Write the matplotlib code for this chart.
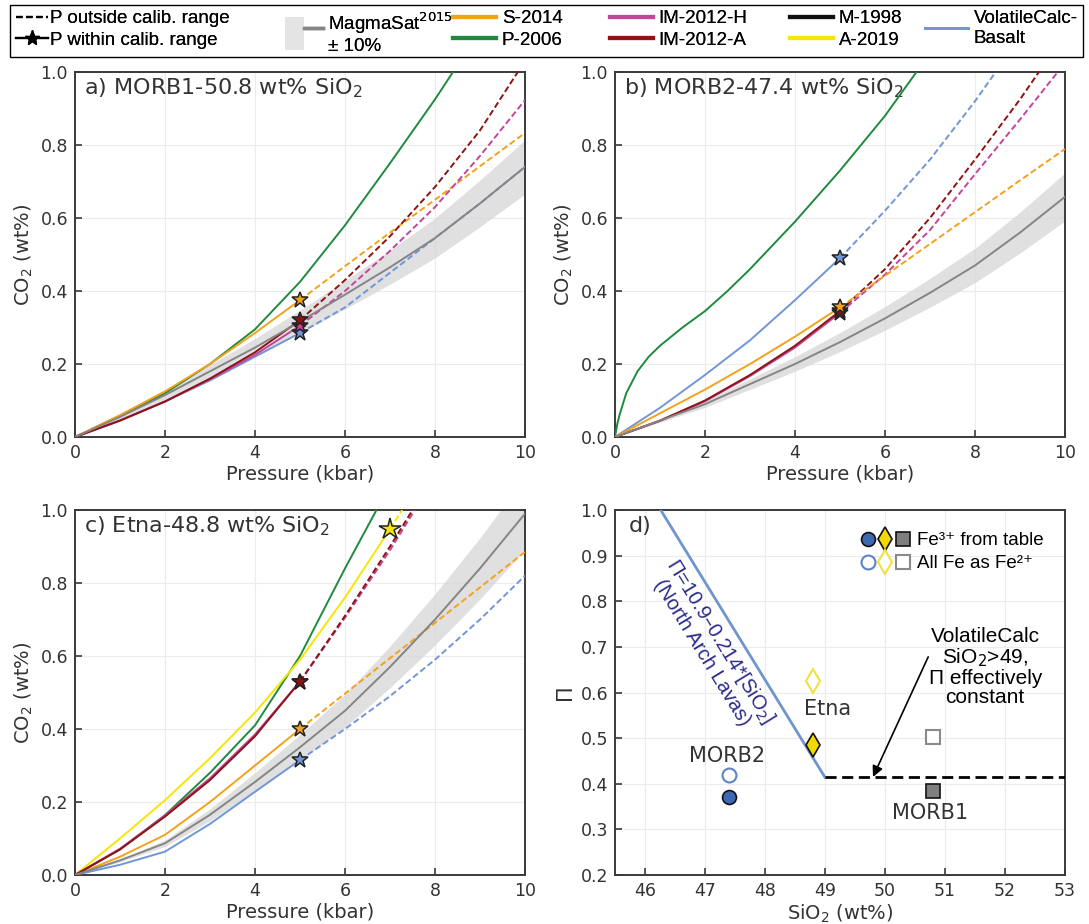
import numpy as np
import matplotlib
matplotlib.use('Agg')
import matplotlib.pyplot as plt
from matplotlib.lines import Line2D
from matplotlib.patches import Patch, Rectangle
from matplotlib.legend_handler import HandlerLine2D, HandlerTuple

# ---- colours
C_MS, C_BAND = '#858585', '#d6d6d6'
C_S14, C_P06 = '#f4a11c', '#1f8a3e'
C_IMH, C_IMA = '#c4449c', '#8c1414'
C_M98, C_A19 = '#111111', '#f7e600'
C_VC = '#7196d8'

# ---- panel a) MORB1
A_P = [0, 1, 2, 3, 4, 5, 6, 7, 8, 9, 10]
A_MS = [0, 0.055, 0.115, 0.18, 0.245, 0.316, 0.39, 0.465, 0.545, 0.64, 0.74]
A_S14 = [0, 0.06, 0.125, 0.2, 0.285, 0.375, 0.468, 0.56, 0.65, 0.742, 0.833]
A_P06_P = [0, 1, 2, 3, 4, 5, 6, 7, 8, 8.4]
A_P06 = [0, 0.058, 0.12, 0.2, 0.295, 0.425, 0.58, 0.75, 0.925, 1.0]
A_IMA_P = [0, 1, 2, 3, 4, 5, 6, 7, 8, 9, 9.84]
A_IMA = [0, 0.045, 0.097, 0.16, 0.232, 0.32, 0.43, 0.55, 0.685, 0.84, 1.0]
A_IMH = [0, 0.045, 0.098, 0.158, 0.225, 0.305, 0.40, 0.51, 0.63, 0.77, 0.923]
A_VC = [0, 0.045, 0.097, 0.155, 0.22, 0.285, 0.355, 0.45, 0.545, 0.64, 0.74]

# ---- panel b) MORB2
B_P = [0, 1, 2, 3, 4, 5, 6, 7, 8, 9, 10]
B_MS = [0, 0.045, 0.09, 0.145, 0.2, 0.26, 0.325, 0.395, 0.47, 0.56, 0.658]
B_S14 = [0, 0.065, 0.13, 0.2, 0.275, 0.355, 0.442, 0.529, 0.616, 0.703, 0.789]
B_P06_P = [0, 0.05, 0.1, 0.25, 0.5, 0.75, 1, 1.5, 2, 2.5, 3, 4, 5, 6, 6.7]
B_P06 = [0, 0.035, 0.06, 0.12, 0.18, 0.22, 0.25, 0.3, 0.345, 0.4, 0.46, 0.59, 0.73, 0.88, 1.0]
B_IMA_P = [0, 1, 2, 3, 4, 5, 6, 7, 8, 9, 9.42]
B_IMA = [0, 0.045, 0.1, 0.17, 0.25, 0.345, 0.46, 0.6, 0.76, 0.925, 1.0]
B_IMH_P = [0, 1, 2, 3, 4, 5, 6, 7, 8, 9, 9.84]
B_IMH = [0, 0.044, 0.098, 0.167, 0.245, 0.34, 0.445, 0.567, 0.72, 0.87, 1.0]
B_VC_P = [0, 1, 2, 3, 4, 5, 6, 7, 8, 8.46]
B_VC = [0, 0.08, 0.17, 0.265, 0.375, 0.49, 0.62, 0.76, 0.92, 1.0]

# ---- panel c) Etna
C_P = [0, 1, 2, 3, 4, 5, 6, 7, 8, 9, 10]
C_MSv = [0, 0.04, 0.087, 0.165, 0.255, 0.35, 0.45, 0.57, 0.7, 0.84, 0.99]
C_S14v = [0, 0.05, 0.11, 0.2, 0.3, 0.4, 0.497, 0.594, 0.691, 0.788, 0.885]
C_VCv = [0, 0.028, 0.064, 0.14, 0.228, 0.315, 0.40, 0.49, 0.59, 0.70, 0.82]
C_P06_P = [0, 1, 2, 3, 4, 5, 6, 6.7]
C_P06v = [0, 0.07, 0.164, 0.28, 0.41, 0.6, 0.84, 1.0]
C_A19_P = [0, 1, 2, 3, 4, 5, 6, 7, 7.27]
C_A19v = [0, 0.1, 0.205, 0.32, 0.445, 0.59, 0.76, 0.948, 1.0]
C_IMA_P = [0, 1, 2, 3, 4, 5, 6, 7, 7.5]
C_IMAv = [0, 0.07, 0.16, 0.26, 0.38, 0.53, 0.71, 0.9, 1.0]
C_IMH_P = [0, 1, 2, 3, 4, 5, 6, 7, 7.55]
C_IMHv = [0, 0.072, 0.163, 0.265, 0.385, 0.53, 0.705, 0.89, 1.0]

P_CAL = 5.0      # calibration limit (kbar) for most models
P_CAL_A19 = 7.0

# ---- panel d) Pi vs SiO2
SAMPLES = ['MORB2', 'Etna', 'MORB1']
SIO2 = [47.4, 48.8, 50.8]
PI_FE3 = [0.37, 0.485, 0.384]
PI_FE2 = [0.42, 0.625, 0.503]
PI_A, PI_B = 10.9, 0.214
SIO2_LIM = 49.0

plt.rcParams['font.family'] = 'DejaVu Sans'
ARIAL = ['Liberation Sans', 'DejaVu Sans']
TXT = '#333333'

fig = plt.figure(figsize=(10.89, 9.24), dpi=100)
W, H = 1089, 924


def add_ax(x0, y0, x1, y1):
    return fig.add_axes([x0 / W, 1 - y1 / H, (x1 - x0) / W, (y1 - y0) / H])


def style(ax):
    for s in ax.spines.values():
        s.set_color('#3a3a3a')
        s.set_linewidth(1.4)
    ax.tick_params(direction='in', length=5, width=1.2, colors='#3a3a3a',
                   labelsize=12.5, labelcolor=TXT, pad=5)
    ax.grid(True, color='#ececec', lw=0.8, zorder=0)
    ax.set_axisbelow(True)


def curve(ax, P, y, color, pcal=None, star=12, lw=1.4):
    P = np.asarray(P, float); y = np.asarray(y, float)
    if pcal is None:
        ax.plot(P, y, color=color, lw=lw, zorder=3)
        return
    m = P <= pcal
    ax.plot(P[m], y[m], color=color, lw=lw, zorder=3, solid_capstyle='round')
    m2 = P >= pcal
    ax.plot(P[m2], y[m2], color=color, lw=lw, ls=(0, (3.2, 1.6)), zorder=3)
    k = int(np.argmin(np.abs(P - pcal)))
    ax.plot(P[k], y[k], marker='*', ms=star, mfc=color, mec='#222222',
            mew=1.1, zorder=6, ls='none')


def magmasat(ax, P, y):
    P = np.asarray(P, float); y = np.asarray(y, float)
    ax.fill_between(P, 0.9 * y, 1.1 * y, color=C_BAND, alpha=0.75, lw=0, zorder=1)
    ax.plot(P, y, color=C_MS, lw=1.4, zorder=4)


def co2_axes(ax, title):
    style(ax)
    ax.set_xlim(0, 10); ax.set_ylim(0, 1.0)
    ax.set_xticks(range(0, 11, 2))
    ax.set_yticks(np.arange(0, 1.01, 0.2))
    ax.set_yticklabels([f'{v:.1f}' for v in np.arange(0, 1.01, 0.2)])
    ax.set_xlabel('Pressure (kbar)', fontsize=14, color=TXT, labelpad=2)
    ax.set_ylabel('CO$_2$ (wt%)', fontsize=14, color=TXT, labelpad=4)
    ax.text(0.02, 0.955, title, transform=ax.transAxes, fontsize=16,
            color=TXT, ha='left', va='center')


# a)
ax = add_ax(75, 72, 525, 437)
co2_axes(ax, 'a) MORB1-50.8 wt% SiO$_2$')
magmasat(ax, A_P, A_MS)
curve(ax, A_P06_P, A_P06, C_P06)
curve(ax, A_P, A_S14, C_S14, P_CAL)
curve(ax, A_P, A_VC, C_VC, P_CAL)
curve(ax, A_P, A_IMH, C_IMH, P_CAL)
curve(ax, A_IMA_P, A_IMA, C_IMA, P_CAL)

# b)
ax = add_ax(615, 72, 1065, 437)
co2_axes(ax, 'b) MORB2-47.4 wt% SiO$_2$')
magmasat(ax, B_P, B_MS)
curve(ax, B_P06_P, B_P06, C_P06)
curve(ax, B_VC_P, B_VC, C_VC, P_CAL)
curve(ax, B_IMH_P, B_IMH, C_IMH, P_CAL)
curve(ax, B_IMA_P, B_IMA, C_IMA, P_CAL)
curve(ax, B_P, B_S14, C_S14, P_CAL)

# c)
ax = add_ax(75, 510, 525, 875)
co2_axes(ax, 'c) Etna-48.8 wt% SiO$_2$')
magmasat(ax, C_P, C_MSv)
curve(ax, C_P, C_VCv, C_VC, P_CAL)
curve(ax, C_P, C_S14v, C_S14, P_CAL)
curve(ax, C_P06_P, C_P06v, C_P06)
curve(ax, C_A19_P, C_A19v, C_A19, P_CAL_A19, star=16)
curve(ax, C_IMH_P, C_IMHv, C_IMH, P_CAL)
curve(ax, C_IMA_P, C_IMAv, C_IMA, P_CAL)

# d)
ax = add_ax(615, 510, 1065, 875)
style(ax)
ax.set_xlim(45.5, 53); ax.set_ylim(0.2, 1.0)
ax.set_xticks(range(46, 54))
ax.set_yticks(np.arange(0.2, 1.01, 0.1))
ax.set_yticklabels([f'{v:.1f}' for v in np.arange(0.2, 1.01, 0.1)])
ax.set_xlabel('SiO$_2$ (wt%)', fontsize=14, color=TXT, labelpad=2)
ax.set_ylabel('Π', fontsize=15, color=TXT, labelpad=4)
ax.text(0.03, 0.955, 'd)', transform=ax.transAxes, fontsize=16,
        color=TXT, ha='left', va='center')

x_top = (PI_A - 1.0) / PI_B
sx = np.array([x_top, SIO2_LIM])
ax.plot(sx, PI_A - PI_B * sx, color='#7094d0', lw=2, zorder=3)
ax.plot([SIO2_LIM, 53], [PI_A - PI_B * SIO2_LIM] * 2, color='black', lw=2,
        ls=(0, (4, 2)), zorder=3)

fill_c = ['#3d68b2', '#f2da00', '#7f7f7f']
open_c = ['#5b84c6', '#f2e040', '#8a8a8a']
mk = ['o', 'd', 's']
ms = [10, 12, 10]
for i in range(3):
    ax.plot(SIO2[i], PI_FE3[i], marker=mk[i], ms=ms[i], mfc=fill_c[i],
            mec='#111111', mew=1.2, ls='none', zorder=5)
    ax.plot(SIO2[i], PI_FE2[i], marker=mk[i], ms=ms[i], mfc='white',
            mec=open_c[i], mew=1.5, ls='none', zorder=5)

ax.text(47.37, 0.46, 'MORB2', fontsize=15, color=TXT, ha='center', va='center')
ax.text(49.05, 0.564, 'Etna', fontsize=15, color=TXT, ha='center', va='center')
ax.text(50.75, 0.336, 'MORB1', fontsize=15, color=TXT, ha='center', va='center')

ax.text(47.12, 0.70, 'Π=10.9–0.214*[SiO$_2$]\n(North Arch Lavas)',
        family=ARIAL, fontsize=14.5, color='#2b2a8c', rotation=-58.5,
        rotation_mode='anchor', ha='center', va='center', linespacing=1.0)
ax.text(51.67, 0.656, 'VolatileCalc\nSiO$_2$>49,\nΠ effectively\nconstant',
        family=ARIAL, fontsize=15, color='black', ha='center', va='center',
        linespacing=1.0)
ax.annotate('', xy=(49.8, 0.415), xytext=(50.72, 0.678),
            arrowprops=dict(arrowstyle='-|>', color='black', lw=1.2,
                            mutation_scale=16, shrinkA=0, shrinkB=0))

h_fill = tuple(Line2D([], [], marker=mk[i], ms=ms[i], mfc=fill_c[i],
                      mec='#111111', mew=1.2, ls='none') for i in range(3))
h_open = tuple(Line2D([], [], marker=mk[i], ms=ms[i], mfc='white',
                      mec=open_c[i], mew=1.5, ls='none') for i in range(3))
ax.legend([h_fill, h_open], ['Fe³⁺ from table', 'All Fe as Fe²⁺'],
          handler_map={tuple: HandlerTuple(ndivide=None, pad=0.0)},
          loc='upper right', bbox_to_anchor=(0.99, 0.985), frameon=False,
          handlelength=2.8, handletextpad=0.3, labelspacing=0.3,
          prop={'family': ARIAL, 'size': 13.5})


# ---- top legend
class StarEnd(HandlerLine2D):
    def get_xdata(self, legend, xdescent, ydescent, width, height, fontsize):
        return [-xdescent, width - xdescent], [width - xdescent]


fig.add_artist(Rectangle((10 / W, 1 - 57 / H), (1083 - 10) / W, 52 / H,
                         transform=fig.transFigure, fill=False,
                         edgecolor='black', lw=1.0))
LEG_KW = dict(frameon=False, borderpad=0, borderaxespad=0, handletextpad=0.3,
              labelspacing=0.25, prop={'family': ARIAL, 'size': 13.5})
TOP = 1 - 10 / H


def col_legend(x, handles, labels, **kw):
    kws = dict(LEG_KW); kws.update(kw)
    lg = fig.legend(handles, labels, loc='upper left',
                    bbox_to_anchor=(x / W, TOP), **kws)
    fig.add_artist(lg)
    return lg


col_legend(16, [Line2D([], [], color='black', lw=1.6, ls=(0, (3, 1.5))),
                Line2D([], [], color='black', lw=1.6, marker='*', ms=11)],
           ['P outside calib. range', 'P within calib. range'],
           handlelength=1.7, handletextpad=0.1,
           handler_map={Line2D: StarEnd(numpoints=1)})
col_legend(285, [(Patch(facecolor='#e4e4e4', edgecolor='none'),
                  Line2D([], [], color=C_MS, lw=2.5))],
           ['MagmaSat$^{2015}$\n± 10%'], handlelength=2.0, handleheight=2.3,
           handler_map={tuple: HandlerTuple(ndivide=None)})
col_legend(453, [Line2D([], [], color=C_S14, lw=3), Line2D([], [], color=C_P06, lw=3)],
           ['S-2014', 'P-2006'], handlelength=2.3)
col_legend(610, [Line2D([], [], color=C_IMH, lw=3), Line2D([], [], color=C_IMA, lw=3)],
           ['IM-2012-H', 'IM-2012-A'], handlelength=2.3)
col_legend(790, [Line2D([], [], color=C_M98, lw=3), Line2D([], [], color=C_A19, lw=3)],
           ['M-1998', 'A-2019'], handlelength=2.3)
col_legend(925, [Line2D([], [], color=C_VC, lw=2)],
           ['VolatileCalc-\nBasalt'], handlelength=2.3, handleheight=0.7)

fig.savefig('out.png', dpi=100)
